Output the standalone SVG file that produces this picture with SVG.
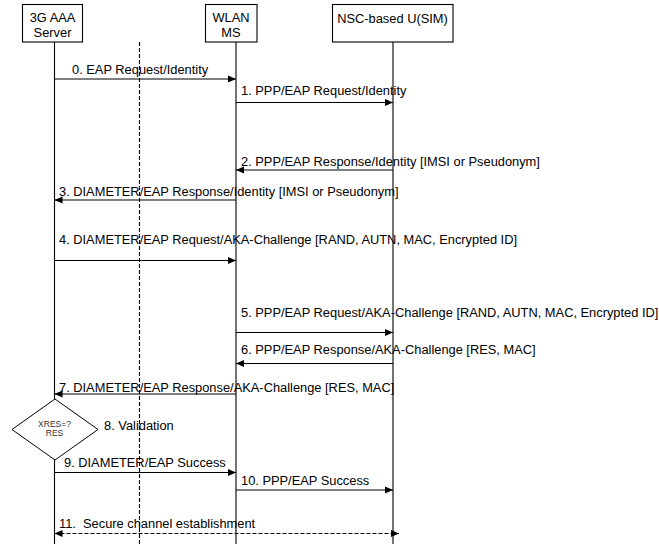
<svg xmlns="http://www.w3.org/2000/svg" width="659" height="544" viewBox="0 0 659 544">
<style>
text{font-family:"Liberation Sans",Arial,sans-serif;font-size:12.85px;fill:#000}
.box{fill:#fff;stroke:#000;stroke-width:1.1}
.life{stroke:#000;stroke-width:1.1;fill:none}
.msg{stroke:#000;stroke-width:1.2;fill:none}
.dash{stroke-dasharray:4 2}
.c{text-anchor:middle}
.small{font-size:8.5px;fill:#333}
</style>
<defs>
<marker id="ah" viewBox="0 0 8 8" refX="8" refY="4" markerWidth="8" markerHeight="8" markerUnits="userSpaceOnUse" orient="auto">
<path d="M0,0.5 L8,4 L0,7.5 Z" fill="#000"/>
</marker>
<marker id="ahs" viewBox="0 0 8 8" refX="0" refY="4" markerWidth="8" markerHeight="8" markerUnits="userSpaceOnUse" orient="auto">
<path d="M8,0.5 L0,4 L8,7.5 Z" fill="#000"/>
</marker>
</defs>
<rect width="659" height="544" fill="#fff"/>
<g id="lifelines">
<line class="life" x1="54.5" y1="42" x2="54.5" y2="544"/>
<line class="life" x1="236" y1="42" x2="236" y2="544"/>
<line class="life" x1="393" y1="42" x2="393" y2="544"/>
<line class="life dash" x1="139.5" y1="42" x2="139.5" y2="544"/>
</g>
<g id="aaa">
<rect class="box" x="22.5" y="4.5" width="60" height="37.5"/>
<text class="c" x="52.5" y="22">3G AAA</text>
<text class="c" x="52.5" y="37">Server</text>
</g>
<g id="wlan">
<rect class="box" x="205.5" y="4.5" width="51.5" height="37.5"/>
<text class="c" x="231" y="22">WLAN</text>
<text class="c" x="231" y="37">MS</text>
</g>
<g id="nsc">
<rect class="box" x="332.5" y="4.5" width="120.5" height="37.5"/>
<text class="c" x="392.5" y="22.5">NSC-based U(SIM)</text>
</g>
<g id="validation">
<polygon points="55,399 98,429.5 55,460 12,429.5" fill="#fff" stroke="#000" stroke-width="1"/>
<text class="c small" x="54.5" y="426.5">XRES=?</text>
<text class="c small" x="54.5" y="435.5">RES</text>
<text x="104" y="430">8. Validation</text>
</g>
<g id="connectors">
<line class="msg" x1="54.5" y1="79" x2="236" y2="79" marker-end="url(#ah)"/>
<line class="msg" x1="236" y1="102.5" x2="393" y2="102.5" marker-end="url(#ah)"/>
<line class="msg" x1="393" y1="170" x2="236" y2="170" marker-end="url(#ah)"/>
<line class="msg" x1="236" y1="200" x2="54.5" y2="200" marker-end="url(#ah)"/>
<line class="msg" x1="54.5" y1="260.5" x2="236" y2="260.5" marker-end="url(#ah)"/>
<line class="msg" x1="236" y1="332.5" x2="393" y2="332.5" marker-end="url(#ah)"/>
<line class="msg" x1="393" y1="363.5" x2="236" y2="363.5" marker-end="url(#ah)"/>
<line class="msg" x1="236" y1="394" x2="54.5" y2="394" marker-end="url(#ah)"/>
<line class="msg" x1="54.5" y1="472.5" x2="236" y2="472.5" marker-end="url(#ah)"/>
<line class="msg" x1="236" y1="490" x2="393" y2="490" marker-end="url(#ah)"/>
<line class="msg dash" x1="54.5" y1="533.5" x2="399" y2="533.5" marker-start="url(#ahs)" marker-end="url(#ah)"/>
</g>
<g id="labels">
<text x="72" y="74">0. EAP Request/Identity</text>
<text x="241" y="95">1. PPP/EAP Request/Identity</text>
<text x="241" y="166">2. PPP/EAP Response/Identity [IMSI or Pseudonym]</text>
<text x="59" y="196">3. DIAMETER/EAP Response/Identity [IMSI or Pseudonym]</text>
<text x="59" y="244">4. DIAMETER/EAP Request/AKA-Challenge [RAND, AUTN, MAC, Encrypted ID]</text>
<text x="241" y="317">5. PPP/EAP Request/AKA-Challenge [RAND, AUTN, MAC, Encrypted ID]</text>
<text x="241" y="354">6. PPP/EAP Response/AKA-Challenge [RES, MAC]</text>
<text x="59" y="392">7. DIAMETER/EAP Response/AKA-Challenge [RES, MAC]</text>
<text x="64" y="467">9. DIAMETER/EAP Success</text>
<text x="241" y="485">10. PPP/EAP Success</text>
<text x="59" y="528" xml:space="preserve">11.  Secure channel establishment</text>
</g>
</svg>
